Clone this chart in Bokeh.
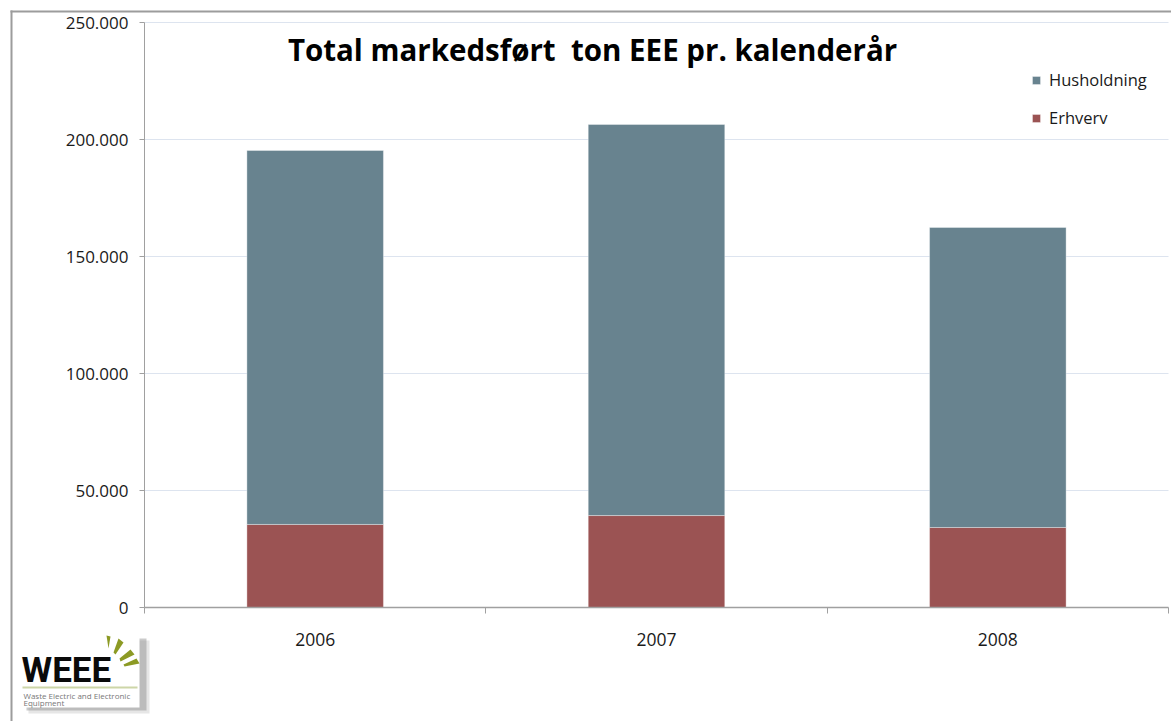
from bokeh.plotting import figure
from bokeh.models import (ColumnDataSource, Range1d, FixedTicker, CustomJSTickFormatter,
                          Legend, LegendItem, Label, BoxAnnotation, PolyAnnotation)
from bokeh.embed import file_html
from bokeh.resources import INLINE

# ---- data ----
years = ["2006", "2007", "2008"]
erhverv = [35500, 39300, 34200]
husholdning = [159800, 167100, 128200]
y_ticks = [0, 50000, 100000, 150000, 200000, 250000]
y_max = 250000
title_text = "Total markedsført\u00a0 ton EEE pr. kalenderår"

FONT = "Open Sans"
C_HUS = "#68838f"
C_ERH = "#9b5353"
GREY = "#a0a0a0"

# ---- layout (pixels) ----
W, H = 1171, 721
PL, PR, PT, PB = 144, 1168, 22, 607          # plot area edges on the canvas
n = len(years)
pxu_x = (PR - PL) / n
pxu_y = (PB - PT) / y_max

xs = [i + 0.5 for i in range(n)]
src = ColumnDataSource(dict(x=xs, erhverv=erhverv, husholdning=husholdning))

# frame covers the whole canvas; axes are pinned with fixed_location
p = figure(width=W, height=H,
           x_range=Range1d(-PL / pxu_x, n + (W - PR) / pxu_x),
           y_range=Range1d(-(H - PB) / pxu_y, y_max + PT / pxu_y),
           output_backend="svg", toolbar_location=None,
           min_border_left=0, min_border_right=0, min_border_top=0, min_border_bottom=0)
p.title.visible = False
p.outline_line_color = None
p.background_fill_color = "white"
p.border_fill_color = "white"
p.xgrid.visible = False
p.ygrid.visible = False

# horizontal gridlines over the plot area only
p.segment(x0=0, x1=n, y0=y_ticks, y1=y_ticks, line_color="#dde4ef", line_width=1)

rs = p.vbar_stack(["erhverv", "husholdning"], x="x", width=0.4, source=src,
                  color=[C_ERH, C_HUS], line_color="white", line_alpha=0.35, line_width=1)

# y axis
ya = p.yaxis[0]
ya.fixed_location = 0
ya.bounds = (0, y_max)
ya.ticker = FixedTicker(ticks=y_ticks, minor_ticks=[])
ya.formatter = CustomJSTickFormatter(code="return tick.toFixed(0).replace(/\\B(?=(\\d{3})+(?!\\d))/g, '.')")
ya.axis_line_color = GREY
ya.major_tick_line_color = GREY
ya.major_tick_out = 5
ya.major_tick_in = 0
ya.major_label_standoff = 11
ya.major_label_text_font = FONT
ya.major_label_text_font_size = "17px"
ya.major_label_text_color = "#1a1a1a"

# x axis
xa = p.xaxis[0]
xa.fixed_location = 0
xa.bounds = (0, n)
xa.ticker = FixedTicker(ticks=xs, minor_ticks=list(range(n + 1)))
xa.formatter = CustomJSTickFormatter(args=dict(labels=years),
                                     code="return labels[Math.floor(tick)] || ''")
xa.axis_line_color = GREY
xa.axis_line_width = 1.5
xa.major_tick_line_color = None
xa.major_tick_out = 0
xa.major_tick_in = 0
xa.minor_tick_line_color = GREY
xa.minor_tick_out = 6
xa.minor_tick_in = 0
xa.major_label_standoff = 19
xa.major_label_text_font = FONT
xa.major_label_text_font_size = "17.5px"
xa.major_label_text_color = "#1a1a1a"


def sy(Y):  # canvas y (from top) -> screen units (from bottom)
    return H - Y


# legend
legend = Legend(items=[LegendItem(label="Husholdning", renderers=[rs[1]]),
                       LegendItem(label="Erhverv", renderers=[rs[0]])],
                location=(1031, sy(129)), orientation="vertical",
                border_line_color=None, background_fill_alpha=0,
                padding=0, margin=0, spacing=15, glyph_width=10, glyph_height=10,
                label_height=22, label_standoff=8,
                label_text_font=FONT, label_text_font_size="16.5px", label_text_color="#1a1a1a")
p.add_layout(legend, "center")

# title
p.add_layout(Label(x=592, y=sy(49), x_units="screen", y_units="screen", text=title_text,
                   text_font=FONT, text_font_style="bold", text_font_size="29.5px",
                   text_align="center", text_baseline="alphabetic", text_color="black"))


def box(l, r, t, b, **kw):
    p.add_layout(BoxAnnotation(left=l, right=r, top=sy(t), bottom=sy(b),
                               left_units="screen", right_units="screen",
                               top_units="screen", bottom_units="screen",
                               line_color=None, **kw))


# outer chart border (top and left)
box(10, W + 5, 10, 12, fill_color="#9c9c9c", fill_alpha=1)
box(10, 12, 10, H + 5, fill_color="#9c9c9c", fill_alpha=1)

# ---- logo ----
box(28, 149, 640, 713, fill_color="#9a9a9a", fill_alpha=0.25)
box(26, 146, 638, 710, fill_color="#8a8a8a", fill_alpha=0.45)
box(20, 139, 634, 707, fill_color="white", fill_alpha=1)
p.add_layout(Label(x=21, y=sy(670), x_units="screen", y_units="screen", text="WEEE",
                   text_font="Roboto", text_font_style="bold",
                   text_font_size="35px", text_baseline="alphabetic", text_color="#0a0a0a"))
rays = [
    ([106, 110, 108], [635, 636, 648]),
    ([118, 123, 115, 113], [638, 642, 654, 652]),
    ([130, 134, 120, 119], [649, 654, 661, 658]),
    ([136, 139, 124, 123], [658, 663, 666, 664]),
]
for rx, ry in rays:
    p.add_layout(PolyAnnotation(xs=rx, ys=[sy(v) for v in ry],
                                xs_units="screen", ys_units="screen",
                                fill_color="#8c9a24", fill_alpha=1, line_color=None))
box(22, 137, 686, 688, fill_color="#cdd6a8", fill_alpha=1)
p.add_layout(Label(x=23, y=sy(695), x_units="screen", y_units="screen",
                   text="Waste Electric and Electronic", text_font=FONT,
                   text_font_size="8px", text_baseline="middle", text_color="#777777"))
p.add_layout(Label(x=23, y=sy(702), x_units="screen", y_units="screen",
                   text="Equipment", text_font=FONT,
                   text_font_size="8px", text_baseline="middle", text_color="#777777"))

open("out.html", "w").write(file_html(p, INLINE))
